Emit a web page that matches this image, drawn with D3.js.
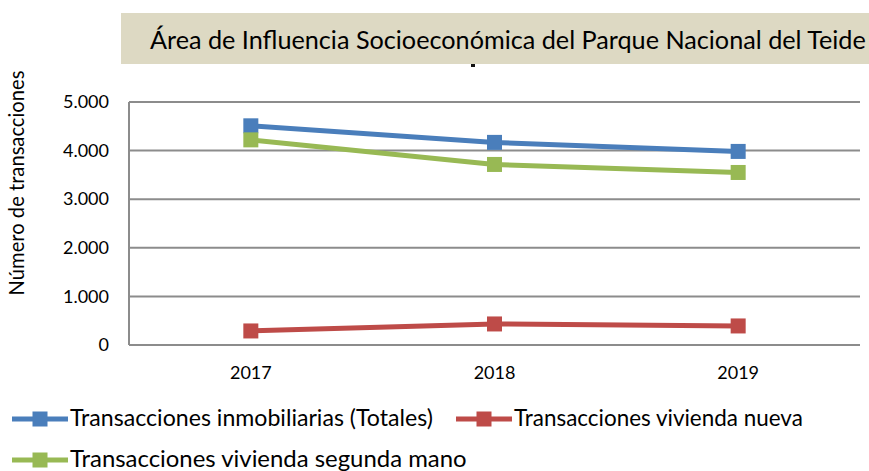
<!DOCTYPE html>
<html><head><meta charset="utf-8">
<script src="https://cdn.jsdelivr.net/npm/d3@7"></script>
<style>body{margin:0;background:#fff}svg{display:block}text{font-family:Lato,"Open Sans",sans-serif;fill:#000}</style>
</head><body><svg id="c" width="869" height="471"></svg>
<script>
const categories = ["2017","2018","2019"];
const seriesNames = ["Transacciones inmobiliarias (Totales)","Transacciones vivienda nueva","Transacciones vivienda segunda mano"];
const totales = [4510, 4169, 3983];
const nueva = [289, 433, 392];
const segunda = [4221, 3715, 3550];
const yTicks = [0,1000,2000,3000,4000,5000];
const title = "Área de Influencia Socioeconómica del Parque Nacional del Teide";
const yTitle = "Número de transacciones";
const colors = ["#4a7ebb","#be4b48","#98b954"];

const svg = d3.select("#c");
const W=869,H=471;
const m={l:129,r:860,t:102,b:345};
const x=d3.scaleBand().domain(categories).range([m.l,m.r]);
const y=d3.scaleLinear().domain([0,5000]).range([m.b,m.t]);
const loc=d3.formatLocale({decimal:",",thousands:".",grouping:[3],currency:["","€"]});
const fmt=loc.format(",d");

function fit(t,w){let fs=parseFloat(t.attr("font-size"));const L=t.node().getComputedTextLength();t.attr("font-size",fs*w/L);}

// title box
svg.append("rect").attr("x",121).attr("y",13).attr("width",W-121).attr("height",51).attr("fill","#ddd9c3");
const tt=svg.append("text").attr("x",150).attr("y",49).attr("font-size",22).text(title);
fit(tt,716);
svg.append("rect").attr("x",471).attr("y",64).attr("width",4).attr("height",3).attr("fill","#111");

// grid
const g=svg.append("g");
g.selectAll("line.grid").data(yTicks).join("line").attr("class","grid")
 .attr("x1",m.l).attr("x2",m.r).attr("y1",d=>y(d)).attr("y2",d=>y(d))
 .attr("stroke","#8c8c8c").attr("stroke-width",2);
g.append("line").attr("x1",m.l).attr("x2",m.l).attr("y1",m.t).attr("y2",m.b).attr("stroke","#8c8c8c").attr("stroke-width",2);

// y axis labels
const ya=d3.axisLeft(y).tickValues(yTicks).tickFormat(fmt).tickSize(0).tickPadding(20);
const yg=svg.append("g").attr("transform",`translate(${m.l},0)`).call(ya);
yg.attr("font-size",null).attr("font-family",null);
yg.select(".domain").remove();
yg.selectAll("text").style("font-size","18px").style("font-family","Lato,'Open Sans',sans-serif").attr("fill","#000");

const xa=d3.axisBottom(x).tickSize(0).tickPadding(21);
const xg=svg.append("g").attr("transform",`translate(0,${m.b})`).call(xa);
xg.attr("font-size",null).attr("font-family",null);
xg.select(".domain").remove();
xg.selectAll("text").style("font-size","18px").style("font-family","Lato,'Open Sans',sans-serif").attr("fill","#000");

const yt=svg.append("text").attr("transform","translate(24,183) rotate(-90)").attr("text-anchor","middle").attr("font-size",16).text(yTitle);
fit(yt,225);

// series
const data=[totales,nueva,segunda];
const line=d3.line().x((d,i)=>x(categories[i])+x.bandwidth()/2).y(d=>y(d));
[0,1,2].forEach(s=>{
  svg.append("path").attr("d",line(data[s])).attr("fill","none").attr("stroke",colors[s]).attr("stroke-width",5).attr("stroke-linejoin","round");
  svg.selectAll(null).data(data[s]).join("rect")
   .attr("x",(d,i)=>x(categories[i])+x.bandwidth()/2-7.5).attr("y",d=>y(d)-7.5)
   .attr("width",15).attr("height",15).attr("fill",colors[s]);
});

// legend
const leg=[{x:12,y:419,w:363},{x:456,y:419,w:289},{x:12,y:460,w:397}];
leg.forEach((p,i)=>{
  const gg=svg.append("g");
  gg.append("line").attr("x1",p.x).attr("x2",p.x+56).attr("y1",p.y).attr("y2",p.y).attr("stroke",colors[i]).attr("stroke-width",5);
  gg.append("rect").attr("x",p.x+28-7.5).attr("y",p.y-7.5).attr("width",15).attr("height",15).attr("fill",colors[i]);
  const t=gg.append("text").attr("x",p.x+58).attr("y",p.y+7).attr("font-size",19).text(seriesNames[i]);
  fit(t,p.w);
});
</script></body></html>
